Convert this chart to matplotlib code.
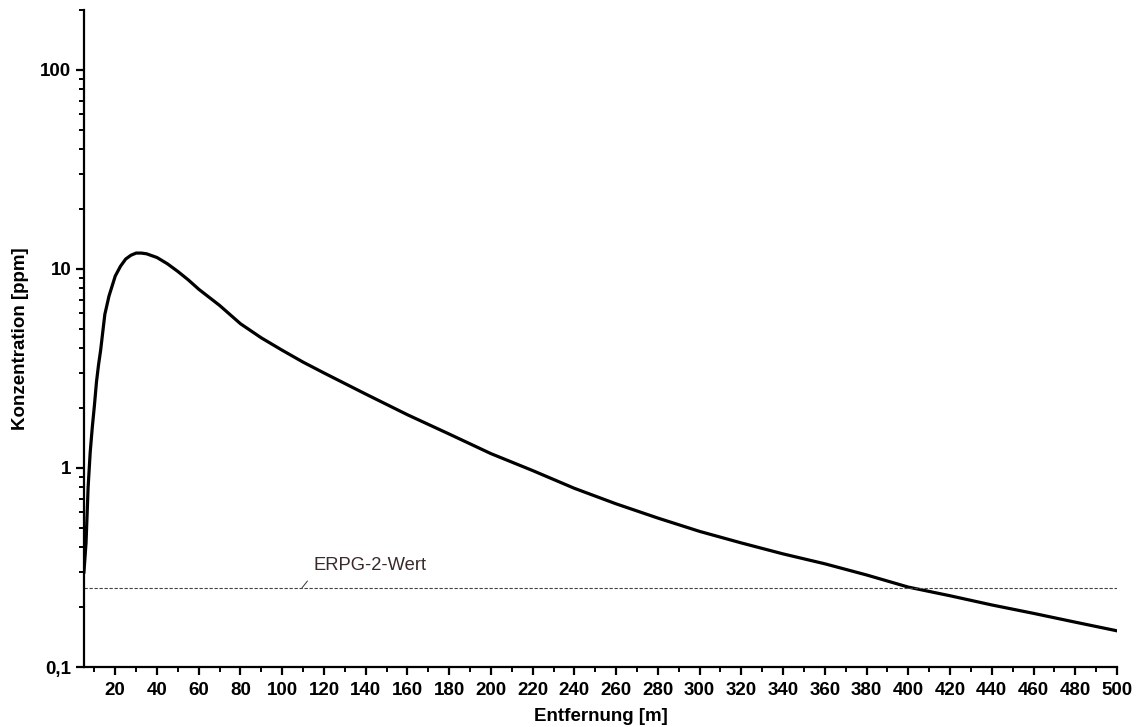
import matplotlib.pyplot as plt
from matplotlib.ticker import MultipleLocator, FixedLocator, FuncFormatter, LogLocator, NullFormatter

plt.rcParams['font.family'] = ['Liberation Sans', 'DejaVu Sans']

# Konzentrationsverlauf über die Entfernung
entfernung = [5, 6, 7, 8, 9, 10, 11, 12, 13, 14, 15, 17, 20, 22.5, 25, 27.5, 30, 32.5, 35,
              40, 45, 50, 55, 60, 70, 80, 90, 100, 110, 120, 140, 160, 180, 200, 220,
              240, 260, 280, 300, 320, 340, 360, 380, 400, 420, 440, 460, 480, 500]
konzentration = [0.30, 0.42, 0.80, 1.2, 1.6, 2.05, 2.7, 3.3, 3.9, 4.8, 5.9, 7.3, 9.2, 10.3,
                 11.2, 11.7, 12.0, 12.0, 11.9, 11.4, 10.6, 9.7, 8.8, 7.9, 6.55, 5.3, 4.5,
                 3.9, 3.4, 3.0, 2.35, 1.85, 1.48, 1.18, 0.97, 0.79, 0.66, 0.56, 0.48, 0.42,
                 0.37, 0.33, 0.29, 0.252, 0.228, 0.205, 0.186, 0.168, 0.152]

erpg2 = 0.25
y_ticks = [0.1, 1, 10, 100]
y_labels = ['0,1', '1', '10', '100']

fig = plt.figure(figsize=(11.39, 7.27), dpi=100)
ax = fig.add_axes([0.0737, 0.0825, 0.907, 0.904])

ax.plot(entfernung, konzentration, color='black', lw=2.3, solid_joinstyle='round')
ax.axhline(erpg2, color='#444444', lw=0.8, dashes=(3, 1.5))
ax.annotate('ERPG-2-Wert', xy=(109.5, erpg2), xytext=(8, 10), textcoords='offset points',
            ha='left', va='bottom', fontsize=13.2, color='#3a2a2a',
            arrowprops=dict(arrowstyle='-', lw=0.7, color='#333333',
                            shrinkA=4, shrinkB=0, relpos=(0, 0)))

ax.set_yscale('log')
ax.set_xlim(5, 500)
ax.set_ylim(0.1, 200)

ax.xaxis.set_major_locator(MultipleLocator(20))
ax.xaxis.set_minor_locator(MultipleLocator(10))
ax.yaxis.set_major_locator(FixedLocator(y_ticks))
ax.yaxis.set_major_formatter(FuncFormatter(lambda v, p: y_labels[y_ticks.index(v)] if v in y_ticks else ''))
ax.yaxis.set_minor_locator(LogLocator(base=10, subs=range(2, 10)))
ax.yaxis.set_minor_formatter(NullFormatter())

for s in ['top', 'right']:
    ax.spines[s].set_visible(False)
for s in ['left', 'bottom']:
    ax.spines[s].set_linewidth(1.6)

ax.tick_params(which='major', direction='out', length=5.5, width=1.6, labelsize=13.5)
ax.tick_params(axis='x', which='major', pad=5)
ax.tick_params(which='minor', direction='out', length=3.5, width=1.4)
for lab in ax.get_xticklabels() + ax.get_yticklabels():
    lab.set_fontweight('bold')

ax.set_xlabel('Entfernung [m]', fontsize=13.5, fontweight='bold', labelpad=7)
ax.set_ylabel('Konzentration [ppm]', fontsize=13.5, fontweight='bold', labelpad=8)

fig.savefig('out.png', dpi=100)
